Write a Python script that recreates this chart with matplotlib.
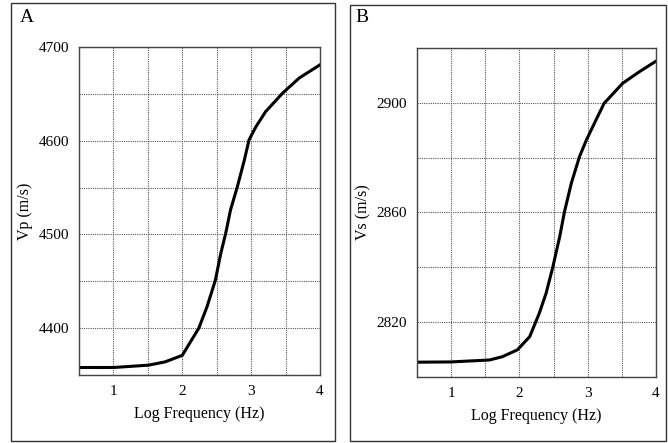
import matplotlib
matplotlib.use("Agg")
import matplotlib.pyplot as plt
from matplotlib.patches import Rectangle
from matplotlib.ticker import MultipleLocator

# curve values
log_f_a = [0.5, 1.0, 1.51, 1.75, 2.0, 2.24, 2.36, 2.48, 2.56, 2.63, 2.70, 2.80,
           2.90, 2.97, 3.07, 3.21, 3.46, 3.70, 4.0]
vp = [4358, 4358, 4360.5, 4364, 4371, 4400, 4423, 4451, 4480, 4501, 4526, 4551,
      4579, 4601, 4615, 4631, 4651, 4667, 4681]

log_f_b = [0.5, 1.0, 1.56, 1.75, 1.97, 2.15, 2.29, 2.39, 2.49, 2.59, 2.66, 2.76,
           2.88, 2.98, 3.12, 3.24, 3.51, 3.76, 4.0]
vs = [2805.4, 2805.5, 2806.2, 2807.4, 2809.9, 2814.7, 2823.2, 2830.5, 2840.2,
      2851.2, 2860.3, 2870.7, 2880.4, 2886.4, 2893.7, 2899.8, 2907.1, 2911.4, 2915.2]

x_ticks = [1, 2, 3, 4]
vp_ticks = [4400, 4500, 4600, 4700]
vs_ticks = [2820, 2860, 2900]

plt.rcParams["font.family"] = ["Liberation Serif", "DejaVu Serif"]
plt.rcParams["font.size"] = 10.5

fig = plt.figure(figsize=(6.68, 4.43), dpi=100)

# panel frames
fig.patches.append(Rectangle((11 / 668, 1 - 441 / 443), 324 / 668, 438 / 443,
                             transform=fig.transFigure, fill=False,
                             edgecolor="#333333", linewidth=1.0))
fig.patches.append(Rectangle((350 / 668, 1 - 441 / 443), 316 / 668, 436 / 443,
                             transform=fig.transFigure, fill=False,
                             edgecolor="#333333", linewidth=1.0))

ax_a = fig.add_axes([79 / 668, 1 - 375 / 443, 241 / 668, 328 / 443])
ax_b = fig.add_axes([417 / 668, 1 - 377 / 443, 239 / 668, 329 / 443])


def style(ax, yticks, ystep, ylim):
    ax.set_xlim(0.5, 4)
    ax.set_ylim(*ylim)
    ax.set_xticks(x_ticks)
    ax.set_yticks(yticks)
    ax.xaxis.set_minor_locator(MultipleLocator(0.5))
    ax.yaxis.set_minor_locator(MultipleLocator(ystep))
    ax.grid(True, which="both", linestyle=(0, (1, 1)), color="#555555", linewidth=0.8)
    ax.tick_params(which="both", length=0, pad=7, labelsize=11)
    for s in ax.spines.values():
        s.set_color("#444444")
        s.set_linewidth(1.0)
    ax.set_xlabel("Log Frequency (Hz)", fontsize=11.5, labelpad=6)


ax_a.plot(log_f_a, vp, color="black", linewidth=2.2, solid_joinstyle="round")
style(ax_a, vp_ticks, 50, (4350, 4700))
ax_a.set_ylabel("Vp (m/s)", fontsize=11.5, labelpad=4)

ax_b.plot(log_f_b, vs, color="black", linewidth=2.2, solid_joinstyle="round")
style(ax_b, vs_ticks, 20, (2800, 2920))
ax_b.set_ylabel("Vs (m/s)", fontsize=11.5, labelpad=4)

fig.text(20 / 668, 1 - 17 / 443, "A", fontsize=14, va="center", ha="left")
fig.text(355 / 668, 1 - 17 / 443, "B", fontsize=14, va="center", ha="left")

fig.savefig("out.png", dpi=100)
